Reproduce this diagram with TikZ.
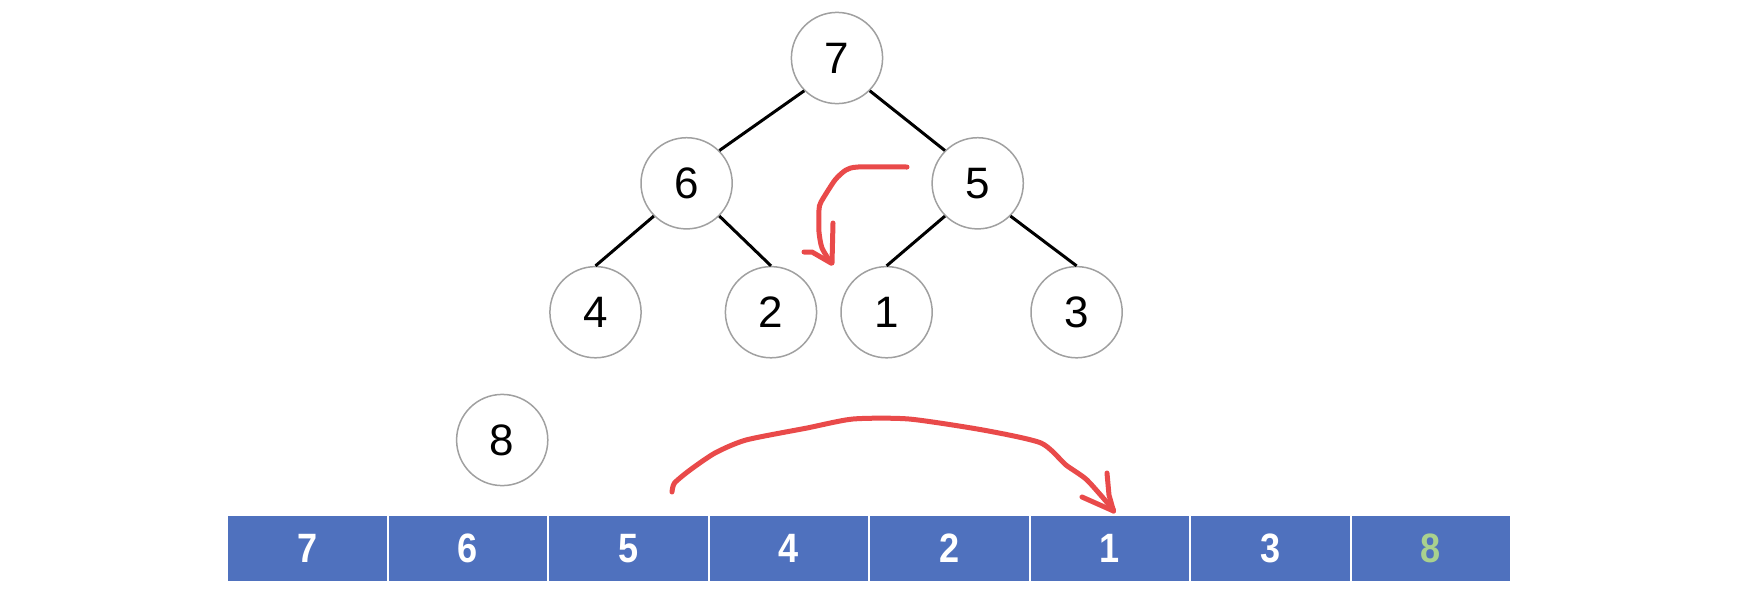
\documentclass[tikz,border=0pt]{standalone}
\usepackage{fontspec}
\setmainfont{Liberation Sans}
\newfontfamily\cellfont[FakeStretch=0.88]{Liberation Sans}
\usepackage{tikz}
\usetikzlibrary{positioning}

\definecolor{cellblue}{RGB}{79,113,190}
\definecolor{newgreen}{RGB}{169,209,142}
\definecolor{penred}{RGB}{233,74,74}
\definecolor{ringgray}{RGB}{160,160,160}

\begin{document}
\begin{tikzpicture}[x=0.5pt,y=-0.5pt,
  heap/.style={circle,draw=ringgray,line width=0.75pt,minimum size=45.6pt,inner sep=0pt,font=\fontsize{22}{26}\selectfont},
  cell/.style={rectangle,fill=cellblue,minimum width=79.25pt,minimum height=32.7pt,inner sep=0pt,outer sep=0pt,text=white,font=\cellfont\bfseries\fontsize{20.5}{24}\selectfont},
  link/.style={line width=1.5pt},
  pen/.style={draw=penred,line width=2.5pt,line cap=round,line join=round}]
\useasboundingbox (0,0) rectangle (1742,596);

% the heap
\node [heap] (r) at (837,58) {7};
\node [heap] (l) at (686.6,183.3) {6};
\node [heap] (rr) at (977.7,183.3) {5};
\node [heap] (ll) at (595.5,312.2) {4};
\node [heap] (lr) at (771,312.2) {2};
\node [heap] (rl) at (886.6,312.2) {1};
\node [heap] (rrr) at (1076.6,312.2) {3};
\node [heap] (new) at (502.2,440) {8};

\draw [link] (r.south west) -- (l.north east);
\draw [link] (r.south east) -- (rr.north west);
\draw [link] (l.south west) -- (ll.north);
\draw [link] (l.south east) -- (lr.north);
\draw [link] (rr.south west) -- (rl.north);
\draw [link] (rr.south east) -- (rrr.north);

% the array
\node [cell] (a1) at (307.3,548.3) {7};
\node [cell,right=1pt of a1] (a2) {6};
\node [cell,right=1pt of a2] (a3) {5};
\node [cell,right=1pt of a3] (a4) {4};
\node [cell,right=1pt of a4] (a5) {2};
\node [cell,right=1pt of a5] (a6) {1};
\node [cell,right=1pt of a6] (a7) {3};
\node [cell,right=1pt of a7,text=newgreen] (a8) {8};

% hand drawn arrows
\draw [pen] plot [smooth,tension=0.4] coordinates {(907,167) (858,167) (846,170) (835,180) (821,202) (819,210) (819,232) (822,248) (831,263)};
\draw [pen] (833,223) -- (832,263);
\draw [pen] (804,252) -- (812,252) -- (831,263);

\draw [pen] plot [smooth,tension=0.4] coordinates {(672,492) (674.5,483) (690,470) (715,453) (746,440) (807,428) (853,419) (909,419) (983,430) (1041,443) (1066,465) (1087,480) (1113.5,510)};
\draw [pen] (1107,473) -- (1109,495) -- (1113.5,511);
\draw [pen] (1082,497) -- (1113.5,511);
\end{tikzpicture}
\end{document}
